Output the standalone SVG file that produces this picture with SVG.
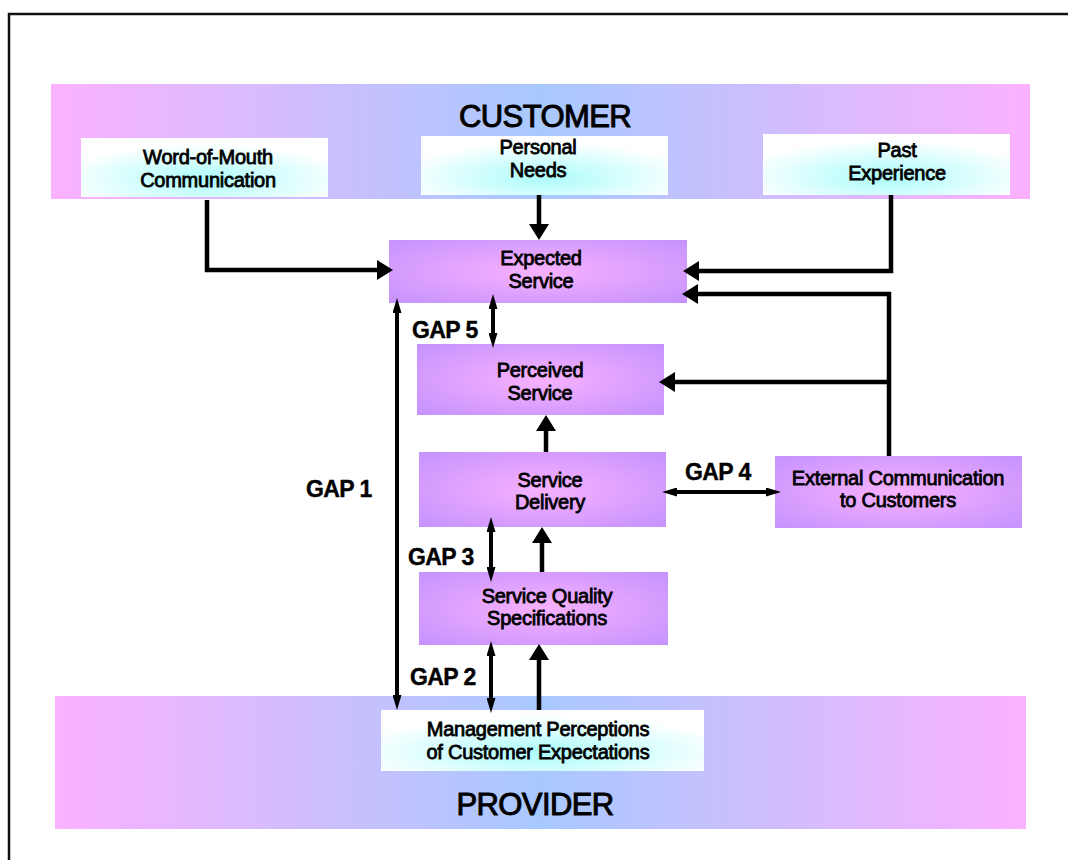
<svg xmlns="http://www.w3.org/2000/svg" width="1068" height="860" viewBox="0 0 1068 860">
  <style>
    text { font-family: "Liberation Sans", Arial, sans-serif; fill: #000; text-anchor: middle; }
    .lbl { font-size: 20px; stroke: #000; stroke-width: 0.8px; letter-spacing: -0.25px; }
    .band-title { font-size: 31px; stroke: #000; stroke-width: 1px; letter-spacing: -0.6px; }
    .gap { font-size: 23px; font-weight: bold; text-anchor: start; letter-spacing: -0.6px; stroke: #000; stroke-width: 0.4px; }
    .conn { fill: none; stroke: #000; stroke-width: 4.5; stroke-linejoin: miter; }
    .big { marker-end: url(#ah); }
    .dbl { stroke-width: 4; marker-start: url(#an); marker-end: url(#an); }
  </style>
  <defs>
    <linearGradient id="bandGrad" x1="0" y1="0" x2="1" y2="0">
      <stop offset="0" stop-color="#fbb1ff"/>
      <stop offset="0.5" stop-color="#a8c9fe"/>
      <stop offset="1" stop-color="#fbb1ff"/>
    </linearGradient>
    <radialGradient id="lightGrad" cx="0.5" cy="0.7" r="0.6">
      <stop offset="0" stop-color="#aafcfb"/>
      <stop offset="1" stop-color="#ffffff"/>
    </radialGradient>
    <radialGradient id="purpleGrad" cx="0.5" cy="0.5" r="0.7">
      <stop offset="0" stop-color="#f7b1fe"/>
      <stop offset="1" stop-color="#c592fe"/>
    </radialGradient>
    <marker id="ah" markerUnits="userSpaceOnUse" markerWidth="16" markerHeight="20" refX="2" refY="10" orient="auto-start-reverse">
      <path d="M0,0 L16,10 L0,20 z" fill="#000"/>
    </marker>
    <marker id="an" markerUnits="userSpaceOnUse" markerWidth="15" markerHeight="9" refX="2" refY="4.5" orient="auto-start-reverse">
      <path d="M0,0 L15,4.5 L0,9 z" fill="#000"/>
    </marker>
  </defs>

  <rect width="1068" height="860" fill="#fff"/>
  <!-- outer frame -->
  <rect x="9" y="14" width="1090" height="880" fill="none" stroke="#111" stroke-width="2.5"/>

  <!-- customer band -->
  <g id="customer">
    <rect x="51" y="84" width="979" height="115" fill="url(#bandGrad)"/>
    <text class="band-title" x="545" y="127">CUSTOMER</text>
  </g>
  <g id="word-of-mouth">
    <rect x="81" y="138" width="247" height="59" fill="url(#lightGrad)"/>
    <text class="lbl" x="208" y="164">Word-of-Mouth</text>
    <text class="lbl" x="208" y="187">Communication</text>
  </g>
  <g id="personal-needs">
    <rect x="421" y="136" width="247" height="59" fill="url(#lightGrad)"/>
    <text class="lbl" x="538" y="154">Personal</text>
    <text class="lbl" x="538" y="177">Needs</text>
  </g>
  <g id="past-experience">
    <rect x="763" y="134" width="247" height="61" fill="url(#lightGrad)"/>
    <text class="lbl" x="897" y="157">Past</text>
    <text class="lbl" x="897" y="180">Experience</text>
  </g>

  <!-- provider band -->
  <g id="provider">
    <rect x="55" y="696" width="971" height="133" fill="url(#bandGrad)"/>
    <text class="band-title" x="535" y="815">PROVIDER</text>
  </g>
  <g id="management-perceptions">
    <rect x="381" y="710" width="323" height="61" fill="url(#lightGrad)"/>
    <text class="lbl" x="538" y="736">Management Perceptions</text>
    <text class="lbl" x="538" y="759">of Customer Expectations</text>
  </g>

  <!-- service boxes -->
  <g id="expected-service">
    <rect x="389" y="240" width="298" height="63" fill="url(#purpleGrad)"/>
    <text class="lbl" x="541" y="265">Expected</text>
    <text class="lbl" x="541" y="288">Service</text>
  </g>
  <g id="perceived-service">
    <rect x="417" y="344" width="247" height="71" fill="url(#purpleGrad)"/>
    <text class="lbl" x="540" y="377">Perceived</text>
    <text class="lbl" x="540" y="400">Service</text>
  </g>
  <g id="service-delivery">
    <rect x="419" y="452" width="247" height="75" fill="url(#purpleGrad)"/>
    <text class="lbl" x="550" y="487">Service</text>
    <text class="lbl" x="550" y="509">Delivery</text>
  </g>
  <g id="external-communication">
    <rect x="775" y="456" width="247" height="72" fill="url(#purpleGrad)"/>
    <text class="lbl" x="898" y="485">External Communication</text>
    <text class="lbl" x="898" y="507">to Customers</text>
  </g>
  <g id="service-quality-specifications">
    <rect x="419" y="572" width="249" height="73" fill="url(#purpleGrad)"/>
    <text class="lbl" x="547" y="603">Service Quality</text>
    <text class="lbl" x="547" y="625">Specifications</text>
  </g>

  <!-- connectors -->
  <g id="connectors">
    <path class="conn big" d="M207,200 V270 H379"/>
    <path class="conn big" d="M539,195 V226"/>
    <path class="conn big" d="M891,195 V271 H697"/>
    <path class="conn big" d="M889,456 V294 H696"/>
    <path class="conn big" d="M889,382 H673"/>
    <path class="conn big" d="M546,452 V429"/>
    <path class="conn big" d="M542,572 V541"/>
    <path class="conn big" d="M539,710 V658"/>
    <path class="conn dbl" d="M493,307 V335"/>
    <path class="conn dbl" d="M397,311 V697"/>
    <path class="conn dbl" d="M491,530 V569"/>
    <path class="conn dbl" d="M491,654 V700"/>
    <path class="conn dbl" d="M675,492 H768"/>
  </g>

  <!-- gap labels -->
  <g id="gap-labels">
    <text class="gap" x="412" y="338">GAP 5</text>
    <text class="gap" x="306" y="497">GAP 1</text>
    <text class="gap" x="685" y="480">GAP 4</text>
    <text class="gap" x="408" y="565">GAP 3</text>
    <text class="gap" x="410" y="685">GAP 2</text>
  </g>
</svg>
